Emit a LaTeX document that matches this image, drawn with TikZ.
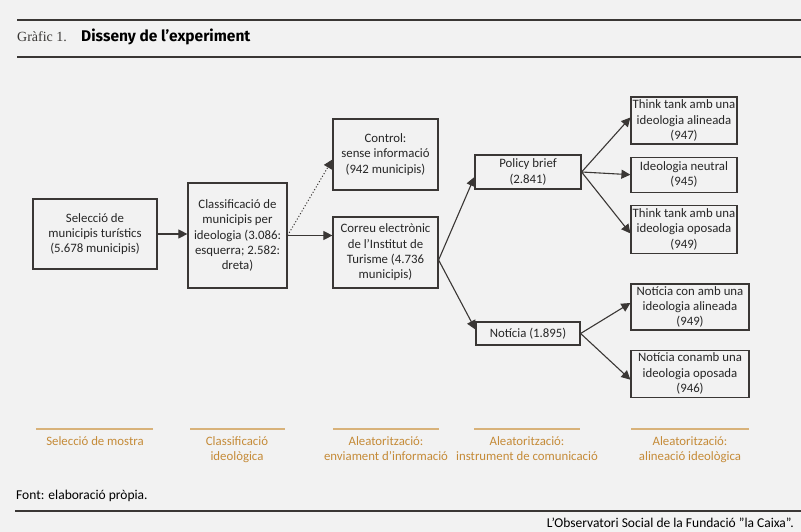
\documentclass[tikz,border=0pt]{standalone}
\usepackage{fontspec}
\setmainfont{Carlito}
\newfontfamily\titlefont{Liberation Serif}
\newfontfamily\headfont{Fira Sans}
\usetikzlibrary{positioning,arrows.meta}

\definecolor{bggray}{HTML}{F2F2F2}
\definecolor{inkgray}{HTML}{3A3735}
\definecolor{gold}{HTML}{C58B38}
\definecolor{goldline}{HTML}{D8B27A}

\begin{document}
\begin{tikzpicture}[
            x=1pt, y=-1pt,
            font=\fontsize{12.8}{15.3}\selectfont,
            block/.style={rectangle, draw=inkgray, line width=1.2pt, fill=bggray, text=black!85, inner sep=0pt, align=center},
            arrow/.style={-{Triangle[length=9pt, width=9pt]}, line width=1.1pt, draw=inkgray},
            phase/.style={anchor=north, text=gold, align=center, inner sep=0pt},
            rule/.style={line width=1.6pt, draw=inkgray}
        ]
        \fill[bggray] (0,0) rectangle (801,532);
        \useasboundingbox (0,0) rectangle (801,532);

        % header
        \draw[rule] (17,20) -- (801,20);
        \draw[rule] (17,57) -- (801,57);
        \node[anchor=base west, inner sep=0pt, text=inkgray] (gnum) at (17,42) {\titlefont\fontsize{14}{16}\selectfont Gràfic 1.};
        \node[anchor=base west, inner sep=0pt, text=black] (gtitle) at (81,42) {\headfont\bfseries\fontsize{15.5}{17}\selectfont Disseny de l’experiment};

        % boxes
        \node[block, minimum width=124pt, minimum height=70pt] (sample) at (95,234) {Selecció de\\ municipis turístics\\ (5.678 municipis)};
        \node[block, minimum width=99pt, minimum height=105pt] (classif) at (237.5,235.5) {Classificació de\\ municipis per\\ ideologia (3.086:\\ esquerra; 2.582:\\ dreta)};
        \node[block, minimum width=105pt, minimum height=71pt] (control) at (385.5,154.5) {Control:\\ sense informació\\ (942 municipis)};
        \node[block, minimum width=105pt, minimum height=71pt] (email) at (385.5,252.5) {Correu electrònic\\ de l’Institut de\\ Turisme (4.736\\ municipis)};
        \node[block, minimum width=106pt, minimum height=34pt] (brief) at (528,172) {Policy brief\\ (2.841)};
        \node[block, minimum width=104pt, minimum height=23pt] (news) at (528,333.5) {Notícia (1.895)};
        \node[block, minimum width=106pt, minimum height=47pt] (ttalign) at (684,120.5) {Think tank amb una\\ ideologia alineada\\ (947)};
        \node[block, minimum width=106pt, minimum height=35pt, below=12pt of ttalign] (neutral) {Ideologia neutral\\ (945)};
        \node[block, minimum width=106pt, minimum height=48pt, below=12pt of neutral] (ttoppos) {Think tank amb una\\ ideologia oposada\\ (949)};
        \node[block, minimum width=118pt, minimum height=46pt] (nwalign) at (690,307) {Notícia con amb una\\ ideologia alineada\\ (949)};
        \node[block, minimum width=118pt, minimum height=47pt, below=19pt of nwalign] (nwoppos) {Notícia conamb una\\ ideologia oposada\\ (946)};

        % connectors
        \coordinate (emailfork) at ([yshift=-7.5pt]email.east);
        \draw[arrow] (sample) -- (classif.west |- sample);
        \draw[arrow] (classif.east) -- (classif.east -| email.west);
        \draw[arrow, dotted, line width=1pt] (classif.east) -- ([yshift=-5pt]control.west);
        \draw[arrow] (emailfork) -- ([yshift=-5pt]brief.west);
        \draw[arrow] (emailfork) -- ([yshift=4pt]news.west);
        \draw[arrow] (brief.east) -- ([yshift=3pt]ttalign.west);
        \draw[arrow] (brief.east) -- (neutral.west);
        \draw[arrow] (brief.east) -- ([yshift=-4pt]ttoppos.west);
        \draw[arrow] (news.east) -- ([yshift=4pt]nwalign.west);
        \draw[arrow] (news.east) -- ([yshift=-6pt]nwoppos.west);

        % phases
        \draw[goldline, line width=1.5pt] (36,429) -- (153,429);
        \draw[goldline, line width=1.5pt] (190,429) -- (285,429);
        \draw[goldline, line width=1.5pt] (333,429) -- (439,429);
        \draw[goldline, line width=1.5pt] (474,429) -- (580,429);
        \draw[goldline, line width=1.5pt] (631,429) -- (749,429);
        \node[phase] (ph1) at (95,436) {Selecció de mostra};
        \node[phase] (ph2) at (237,436) {Classificació\\ ideològica};
        \node[phase] (ph3) at (386,436) {Aleatorització:\\ enviament d’informació};
        \node[phase] (ph4) at (527,436) {Aleatorització:\\ instrument de comunicació};
        \node[phase] (ph5) at (690,436) {Aleatorització:\\ alineació ideològica};

        % footer
        \node[anchor=base west, inner sep=0pt, text=black, font=\fontsize{13.5}{15}\selectfont] (source) at (16,499) {Font: elaboració pròpia.};
        \draw[rule] (15,511) -- (801,511);
        \node[anchor=base east, inner sep=0pt, text=black, font=\fontsize{13.5}{15}\selectfont] (credit) at (794,527) {L’Observatori Social de la Fundació ”la Caixa”.};
        \end{tikzpicture}
\end{document}
